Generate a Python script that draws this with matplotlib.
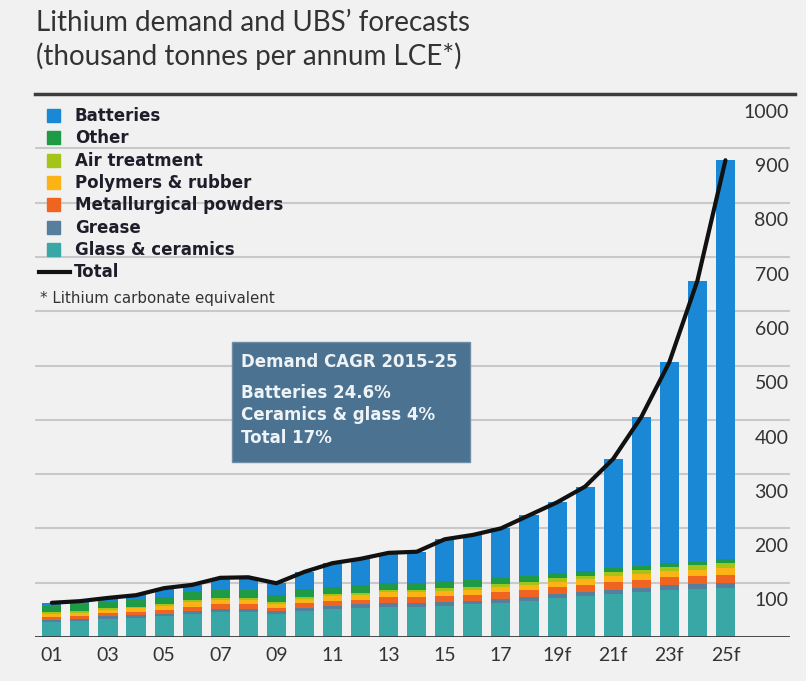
import matplotlib
matplotlib.use("Agg")
import matplotlib.pyplot as plt
from matplotlib.patches import Rectangle
from matplotlib.lines import Line2D
import numpy as np

# thousand tonnes LCE per year, 2001-2025 (2019 onwards forecast)
years = ["01", "02", "03", "04", "05", "06", "07", "08", "09", "10", "11", "12", "13",
         "14", "15", "16", "17", "18", "19f", "20f", "21f", "22f", "23f", "24f", "25f"]
glass = [28, 30, 33, 35, 38, 42, 46, 46, 42, 48, 52, 54, 56, 56, 58, 60, 63, 67, 71, 75, 79, 83, 87, 89, 91]
grease = [4, 4, 5, 5, 5, 6, 6, 6, 5, 6, 6, 6, 7, 7, 7, 7, 7, 7, 8, 8, 8, 8, 8, 8, 8]
metallurgical = [5, 5, 6, 6, 7, 8, 8, 8, 7, 8, 9, 9, 10, 10, 11, 11, 12, 12, 13, 13, 14, 14, 15, 15, 16]
polymers = [6, 6, 6, 7, 7, 8, 8, 8, 7, 8, 8, 8, 9, 9, 9, 9, 10, 10, 10, 10, 11, 11, 11, 12, 12]
air = [3, 3, 3, 3, 3, 4, 4, 4, 3, 4, 4, 4, 4, 4, 5, 5, 5, 6, 6, 6, 7, 7, 8, 8, 9]
other = [12, 12, 12, 13, 14, 14, 15, 15, 13, 14, 14, 14, 14, 14, 14, 13, 12, 11, 10, 9, 8, 8, 7, 7, 7]
batteries = [5, 6, 7, 8, 16, 14, 22, 23, 22, 32, 43, 49, 55, 57, 76, 83, 91, 111, 130, 156, 201, 274, 370, 517, 735]

series = [
    ("Glass & ceramics", glass, "#38a7a6"),
    ("Grease", grease, "#557f9c"),
    ("Metallurgical powders", metallurgical, "#ef6420"),
    ("Polymers & rubber", polymers, "#fbb316"),
    ("Air treatment", air, "#a5c419"),
    ("Other", other, "#1f9a45"),
    ("Batteries", batteries, "#1a88d5"),
]
legend_order = ["Batteries", "Other", "Air treatment", "Polymers & rubber",
                "Metallurgical powders", "Grease", "Glass & ceramics"]

yticks = [100, 200, 300, 400, 500, 600, 700, 800, 900, 1000]

bg = "#f1f1f1"
W, H = 806, 681
plt.rcParams["font.family"] = ["Lato", "DejaVu Sans"]
KEYFONT = "DejaVu Sans"

fig = plt.figure(figsize=(W / 100, H / 100), dpi=100, facecolor=bg)


def fx(x):
    return x / W


def fy(y):
    return 1 - y / H


ax = fig.add_axes([fx(35), fy(637), fx(790) - fx(35), fy(94) - fy(637)])
ax.set_facecolor(bg)

x = np.arange(len(years))
bottom = np.zeros(len(years))
for name, vals, col in series:
    ax.bar(x, vals, 0.68, bottom=bottom, color=col, linewidth=0, zorder=3)
    bottom += np.array(vals)

total = bottom
ax.plot(x, total, color="#111111", lw=3, zorder=4, solid_capstyle="round")

ax.set_xlim(-0.6, 26.3)
ax.set_ylim(0, 1000)
for v in yticks:
    ax.axhline(v, color="#c9c9c9", lw=1.5, zorder=1)
ax.axhline(0, color="#3a3a3a", lw=2, zorder=5)
for s in ax.spines.values():
    s.set_visible(False)
ax.set_yticks([])
ax.set_xticks(x[::2])
ax.set_xticklabels(years[::2], fontsize=14, color="#333333")
ax.tick_params(axis="x", length=0, pad=7)

# value labels sit just under each gridline at the right edge
for v in yticks:
    ax.annotate(str(v), xy=(1.0, v), xycoords=ax.get_yaxis_transform(),
                xytext=(-1, -7), textcoords="offset points",
                ha="right", va="top", fontsize=14, color="#333333")

# heading and top rule
fig.text(fx(36), fy(23), "Lithium demand and UBS\u2019 forecasts", fontsize=20,
         color="#333333", va="center", ha="left")
fig.text(fx(36), fy(56), "(thousand tonnes per annum LCE*)", fontsize=20,
         color="#333333", va="center", ha="left")
fig.add_artist(Line2D([fx(35), fx(795)], [fy(94), fy(94)], color="#3c3c3c", lw=2.5))

# key
colors = {name: col for name, _, col in series}
row_y = 116
for name in legend_order:
    fig.add_artist(Rectangle((fx(47), fy(row_y + 6)), fx(13), fy(0) - fy(13),
                             color=colors[name], transform=fig.transFigure))
    fig.text(fx(75), fy(row_y), name, fontsize=12, fontweight="bold", family=KEYFONT,
             color="#1e1e2a", va="center", ha="left")
    row_y += 22.3
fig.add_artist(Line2D([fx(39), fx(70)], [fy(row_y), fy(row_y)], color="#111111", lw=3))
fig.text(fx(74), fy(row_y), "Total", fontsize=12, fontweight="bold", family=KEYFONT,
         color="#1e1e2a", va="center", ha="left")
fig.text(fx(40), fy(298), "* Lithium carbonate equivalent", fontsize=10.8, family=KEYFONT,
         color="#333333", va="center", ha="left")

# growth box
fig.add_artist(Rectangle((fx(232), fy(462)), fx(238), fy(0) - fy(120),
                         facecolor="#4b7290", edgecolor="#6f8ea6", lw=1,
                         transform=fig.transFigure, zorder=6))
fig.text(fx(241), fy(362), "Demand CAGR 2015-25", fontsize=12, fontweight="bold",
         family=KEYFONT, color="#eef3f7", va="center", ha="left", zorder=7)
for i, line in enumerate(["Batteries 24.6%", "Ceramics & glass 4%", "Total 17%"]):
    fig.text(fx(241), fy(393 + 22.5 * i), line, fontsize=12, fontweight="bold",
             family=KEYFONT, color="#eef3f7", va="center", ha="left", zorder=7)

fig.savefig("out.png", dpi=100, facecolor=bg)
